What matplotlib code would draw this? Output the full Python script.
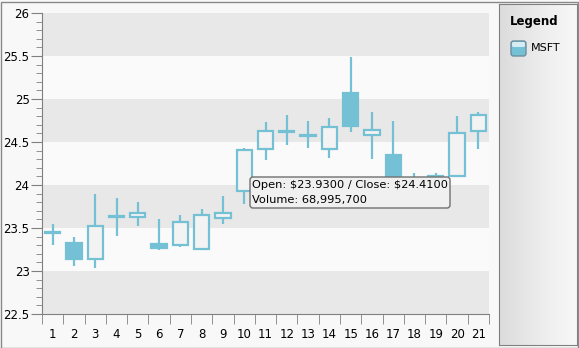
import numpy as np
import matplotlib.pyplot as plt
from matplotlib.patches import Rectangle, FancyBboxPatch

# MSFT daily candles
days = list(range(1, 22))
opens = [23.44, 23.32, 23.14, 23.63, 23.63, 23.31, 23.30, 23.26, 23.62, 23.93, 24.42,
         24.62, 24.57, 24.42, 25.07, 24.58, 24.35, 24.00, 24.05, 24.10, 24.63]
closes = [23.45, 23.14, 23.52, 23.64, 23.68, 23.27, 23.57, 23.65, 23.67, 24.41, 24.63,
          24.63, 24.58, 24.68, 24.69, 24.64, 24.05, 24.06, 24.10, 24.61, 24.81]
highs = [23.55, 23.40, 23.90, 23.85, 23.80, 23.60, 23.65, 23.72, 23.87, 24.43, 24.73,
         24.81, 24.75, 24.78, 25.49, 24.85, 24.74, 24.14, 24.14, 24.80, 24.85]
lows = [23.30, 23.06, 23.03, 23.41, 23.52, 23.24, 23.28, 23.26, 23.55, 23.78, 24.29,
        24.47, 24.43, 24.31, 24.62, 24.30, 23.95, 23.90, 23.95, 24.09, 24.42]
series_name = 'MSFT'
tip_lines = [r'Open: \$23.9300 / Close: \$24.4100', 'Volume: 68,995,700']

blue = '#74c1d5'
W, H = 579, 348

fig = plt.figure(figsize=(W / 100, H / 100), dpi=100)
fig.patch.set_facecolor('#f8f8f8')
px = fig.dpi_scale_trans  # inches; 1 px = 0.01


def pbox(x0, y0, x1, y1, **kw):
    # box given in image pixels (top-left origin)
    return FancyBboxPatch((x0 / 100, (H - y1) / 100), (x1 - x0) / 100, (y1 - y0) / 100,
                          transform=px, **kw)


ax = fig.add_axes([42 / W, 1 - 314 / H, (489 - 42) / W, (314 - 13) / H])
ax.set_facecolor('#fafafa')

# alternating bands
for lo in np.arange(22.5, 26, 1.0):
    ax.axhspan(lo, lo + 0.5, color='#e8e8e8', lw=0, zorder=0)

x = np.array(days)
o = np.array(opens)
c = np.array(closes)
ax.vlines(x, lows, highs, color=blue, lw=1.6, zorder=2)
body_h = np.where(np.abs(c - o) < 0.02, 0.012, c - o)
face = np.where(c < o, blue, '#f3f3f3')
ax.bar(x, body_h, bottom=o, width=0.72, color=face, edgecolor=blue,
       linewidth=1.6, zorder=3)

ax.set_xlim(0.5, 21.5)
ax.set_ylim(22.5, 26)
ax.set_yticks(np.arange(22.5, 26.01, 0.5))
ax.set_yticklabels(['22.5', '23', '23.5', '24', '24.5', '25', '25.5', '26'])
ax.set_yticks(np.arange(22.5, 26.01, 0.1), minor=True)
ax.set_xticks(x)
ax.set_xticks(np.arange(0.5, 21.6, 1.0), minor=True)
ax.tick_params(axis='y', which='major', length=8, color='#808080', labelsize=8.5, pad=1)
ax.tick_params(axis='y', which='minor', length=4, color='#808080')
ax.tick_params(axis='x', which='major', length=0, labelsize=8.5, pad=10)
ax.tick_params(axis='x', which='minor', length=7, color='#808080')
for s in ['top', 'right']:
    ax.spines[s].set_visible(False)
for s in ['left', 'bottom']:
    ax.spines[s].set_color('#808080')

# tooltip
fig.add_artist(pbox(250, 177, 450, 208, boxstyle='round,pad=0,rounding_size=0.03',
                    facecolor='#f0f0f0', edgecolor='#707070', lw=1, zorder=10))
fig.text(252 / W, 1 - 185 / H, tip_lines[0], fontsize=8.2, va='center', zorder=11)
fig.text(252 / W, 1 - 200 / H, tip_lines[1], fontsize=8.2, va='center', zorder=11)

# legend panel with gradient
lax = fig.add_axes([499 / W, 1 - 345 / H, (577 - 499) / W, (345 - 4) / H])
grad = np.linspace(0, 1, 100).reshape(1, -1)
lax.imshow(grad, aspect='auto', cmap='Greys_r', vmin=-4.5, vmax=1.4,
           extent=[0, 1, 0, 1])
lax.set_xticks([])
lax.set_yticks([])
for s in lax.spines.values():
    s.set_color('#808080')
lax.set_xlim(0, 1)
lax.set_ylim(0, 1)
fig.text(510 / W, 1 - 22 / H, 'Legend', fontsize=8.5, fontweight='bold', va='center')
fig.add_artist(pbox(511, 41, 526, 56, boxstyle='round,pad=0,rounding_size=0.025',
                    facecolor=blue, edgecolor='#6d8ea0', lw=1, zorder=5))
fig.add_artist(pbox(512, 42, 525, 47, boxstyle='round,pad=0,rounding_size=0.015',
                    facecolor='#d6ecf2', edgecolor='none', zorder=6))
fig.text(531 / W, 1 - 48 / H, series_name, fontsize=8, va='center')

# outer border
fig.add_artist(Rectangle((0.5 / W, 0.5 / H), (W - 2) / W, (H - 2) / H,
                         transform=fig.transFigure, fill=False,
                         edgecolor='#888888', lw=1))

fig.savefig('out.png', dpi=100)
